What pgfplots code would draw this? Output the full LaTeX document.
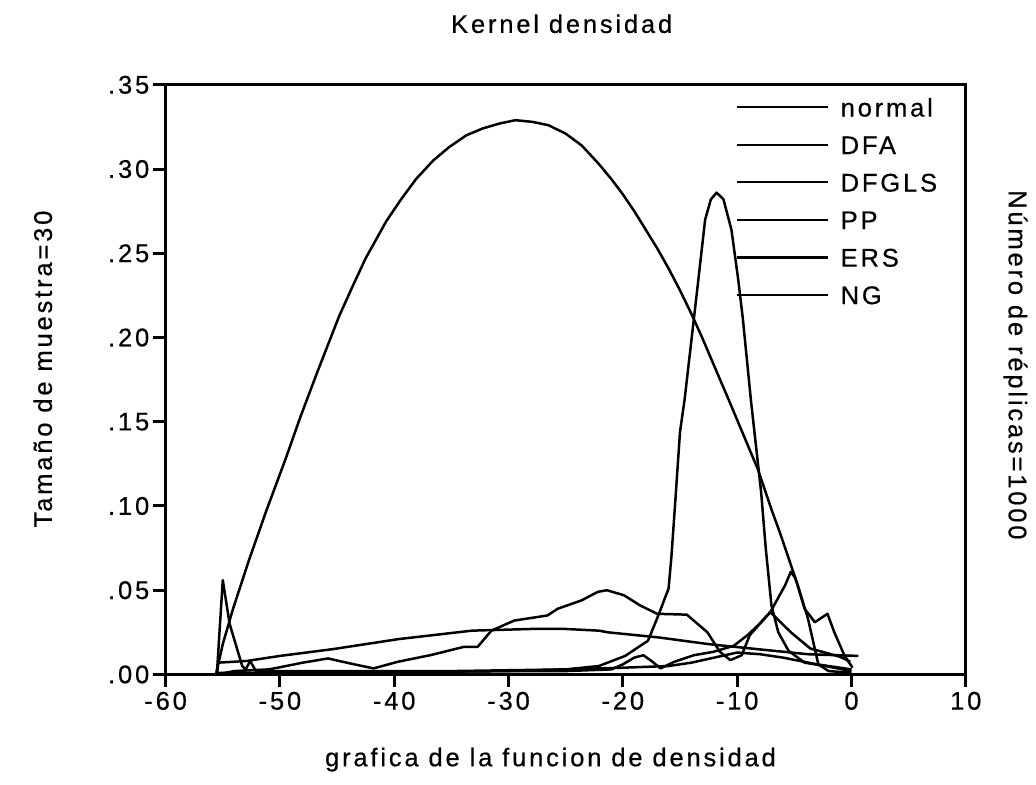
\documentclass[border=0pt]{standalone}
\usepackage{pgfplots}
\pgfplotsset{compat=1.18}
\usepackage{fontspec}
\setmainfont{Liberation Sans}[LetterSpace=11, FakeBold=0.5]

\begin{document}
\fontsize{12.8bp}{15bp}\selectfont
\begin{tikzpicture}
\begin{axis}[
    scale only axis, width=401bp, height=295.5bp,
    xmin=-60, xmax=10, ymin=0, ymax=0.35,
    axis line style={line width=1.5bp},
    tick align=outside, tick pos=left,
    major tick length=6.5bp,
    every tick/.style={black, line width=1.5bp},
    xtick={-60,-50,-40,-30,-20,-10,0,10},
    xticklabels={-60,-50,-40,-30,-20,-10,0,10},
    ytick={0,0.05,0.1,0.15,0.2,0.25,0.3,0.35},
    yticklabels={.00,.05,.10,.15,.20,.25,.30,.35},
    xticklabel style={inner sep=2bp},
    yticklabel style={inner sep=1.5bp},
    clip=false,
    every axis plot post/.append style={black, solid, mark=none, line width=1.25bp, line join=round},
    legend image code/.code={\draw[#1, line width=1.1bp] (0bp,0bp) -- (45.5bp,0bp);},
    legend cell align=left,
    legend style={draw=none, fill=none, at={(0.712,0.978)}, anchor=north west,
        inner sep=0pt, row sep=9.6bp,
        nodes={inner sep=0pt, text height=9.2bp, text depth=0bp},
        /tikz/every odd column/.append style={column sep=6bp}},
]
% normal
\addplot coordinates {
(-55.5,0.000) (-55.4,0.007) (-52.9,0.008) (-50,0.011) (-45.4,0.015) (-39.6,0.021)
(-33.2,0.026) (-28,0.027) (-25.0,0.027) (-22.1,0.026) (-21.3,0.025) (-16.9,0.022)
(-12.5,0.018) (-8.2,0.015) (-3.8,0.012) (0.6,0.011)
};
% DFA
\addplot coordinates {
(-55.6,0.000) (-55.0,0.018) (-54.1,0.039) (-52.7,0.068) (-51.2,0.097) (-49.5,0.128)
(-48.2,0.153) (-46.7,0.180) (-44.8,0.213) (-43.6,0.231) (-42.5,0.247) (-41.6,0.258)
(-40.7,0.269) (-39.4,0.282) (-38.1,0.294) (-36.6,0.305) (-35.2,0.313) (-33.7,0.320)
(-32.3,0.324) (-30.8,0.327) (-29.4,0.329) (-27.9,0.328) (-26.5,0.326) (-25.0,0.321)
(-23.6,0.314) (-22.1,0.303) (-21.0,0.294) (-20,0.285) (-19,0.275) (-18,0.264)
(-17,0.253) (-16,0.241) (-15,0.228) (-14,0.214) (-13,0.199) (-12,0.183)
(-10.8,0.164) (-9.5,0.143) (-8.2,0.122) (-7.0,0.098) (-6.2,0.083) (-5.5,0.069)
(-4.7,0.053) (-3.8,0.033) (-2.9,0.006) (-2.0,0.002) (0,0.001)
};
% DFGLS
\addplot coordinates {
(-55.5,0.001) (-45,0.001) (-30,0.002) (-25,0.003) (-22.1,0.005) (-19.8,0.011)
(-17.8,0.020) (-16.9,0.035) (-16.0,0.051) (-15.75,0.070) (-15.4,0.104) (-15.0,0.144)
(-14.6,0.163) (-13.4,0.234) (-12.8,0.270) (-12.3,0.282) (-11.8,0.286) (-11.2,0.282)
(-10.5,0.264) (-9.9,0.234) (-9.5,0.211) (-8.8,0.163) (-7.9,0.108) (-7.5,0.075)
(-7.0,0.041) (-6.4,0.025) (-5.5,0.014) (-4.1,0.007) (-2.3,0.005) (0,0.002)
};
% PP
\addplot coordinates {
(-55.5,0.000) (-54,0.002) (-51,0.003) (-50.2,0.004) (-48,0.007) (-45.8,0.0095)
(-43.5,0.006) (-41.8,0.0036) (-39.7,0.0075) (-36.8,0.0115) (-33.9,0.0164) (-32.7,0.0164)
(-31.5,0.026) (-29.5,0.032) (-26.6,0.035) (-25.7,0.039) (-23.6,0.044) (-22.2,0.049)
(-21.4,0.050) (-19.9,0.047) (-18.5,0.041) (-17.0,0.036) (-14.4,0.0355) (-12.6,0.025)
(-11.5,0.0134) (-10.6,0.0085) (-9.6,0.0114) (-8.9,0.0233) (-7.1,0.037) (-5.3,0.025)
(-3.6,0.0154) (-1.0,0.0105) (-0.1,0.0075)
};
% ERS
\addplot coordinates {
(-55.5,0.000) (-45,0.001) (-30,0.002) (-25,0.002) (-21,0.003) (-20,0.006)
(-19,0.010) (-18.2,0.0114) (-17.5,0.008) (-16.7,0.0036) (-15.5,0.0075) (-13.8,0.0114)
(-12.1,0.0134) (-10.3,0.017) (-9.1,0.0233) (-8.2,0.029) (-7.1,0.037) (-5.8,0.053)
(-5.3,0.061) (-4.9,0.057) (-4.1,0.039) (-3.2,0.031) (-2.1,0.036) (-1.5,0.025)
(-0.6,0.011) (0.1,0.004)
};
% NG
\addplot coordinates {
(-55.5,0.002) (-55.0,0.056) (-54.4,0.030) (-53.3,0.005) (-53.0,0.003) (-52.6,0.008)
(-52.1,0.002) (-45,0.002) (-35,0.002) (-25,0.003) (-20,0.004) (-16,0.005)
(-14,0.007) (-12,0.010) (-10,0.013) (-8,0.012) (-6,0.010) (-3,0.006) (0,0.003)
};
\legend{normal,DFA,DFGLS,PP,ERS,NG}
\node[anchor=base, yshift=26bp] at (rel axis cs:0.495,1) {Kernel densidad};
\node[anchor=base, yshift=-46bp] at (rel axis cs:0.481,0) {grafica de la funcion de densidad};
\end{axis}
\node[anchor=base, rotate=90] at ([xshift=-57bp, yshift=0.018*295.5bp]current axis.west) {Tamaño de muestra=30};
\node[anchor=base, rotate=-90] at ([xshift=21.5bp, yshift=0.025*295.5bp]current axis.east) {Número de réplicas=1000};
\path ([xshift=-83bp, yshift=-55bp]current axis.south west) rectangle ([xshift=34bp, yshift=42.5bp]current axis.north east);
\end{tikzpicture}
\end{document}
